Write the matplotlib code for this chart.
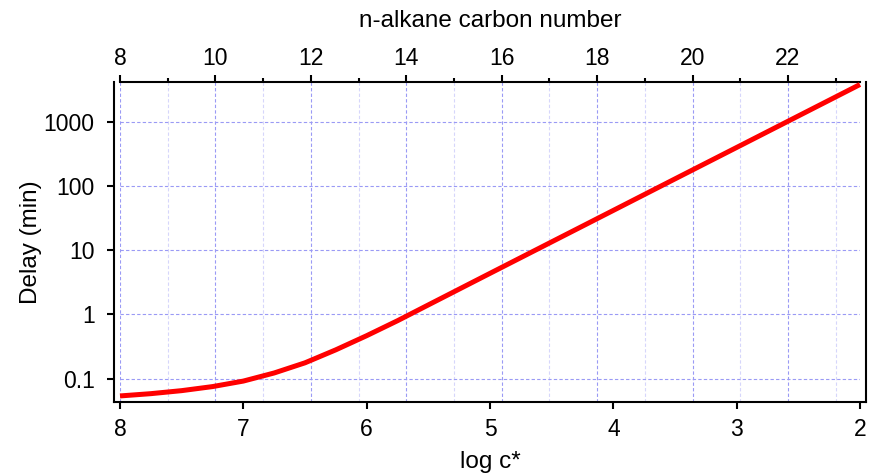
import numpy as np
import matplotlib.pyplot as plt
from matplotlib.ticker import FixedLocator, NullLocator, NullFormatter

# values
log_c = [8.0, 7.75, 7.5, 7.25, 7.0, 6.75, 6.5, 6.25, 6.0, 5.75, 5.5,
         5.0, 4.5, 4.0, 3.5, 3.0, 2.5, 2.0]
delay = [0.054, 0.0586, 0.0653, 0.0755, 0.092, 0.123, 0.177, 0.282, 0.468, 0.80, 1.41,
         4.37, 13.5, 41.7, 129, 398, 1230, 3800]

x_lim = (8, 2)
carbon_lim = (8, 23.51)
y_lim = (0.043, 4200)
y_ticks = [0.1, 1, 10, 100, 1000]
y_labels = ["0.1", "1", "10", "100", "1000"]
x_ticks = [8, 7, 6, 5, 4, 3, 2]
carbon_major = [8, 10, 12, 14, 16, 18, 20, 22]
carbon_minor = [9, 11, 13, 15, 17, 19, 21, 23]

plt.rcParams['font.family'] = ['Liberation Sans', 'DejaVu Sans']
fs = 16.5
fs_label = 17.5
grid_major = "#9a9af5"
grid_minor = "#d6d6fb"

fig = plt.figure(figsize=(8.7, 4.75), dpi=100)
ax = fig.add_axes([120 / 870, 72.7 / 475, 740 / 870, 320.6 / 475])
ax2 = ax.twiny()
ax.set_zorder(2)
ax.patch.set_visible(False)
ax2.set_zorder(1)

# main curve
ax.plot(log_c, delay, color="#ff0000", lw=3.6, solid_capstyle="butt", clip_on=False)

ax.set_yscale("log")
ax.set_xlim(*x_lim)
ax.set_ylim(*y_lim)
ax.yaxis.set_major_locator(FixedLocator(y_ticks))
ax.set_yticklabels(y_labels)
ax.yaxis.set_minor_locator(NullLocator())
ax.yaxis.set_minor_formatter(NullFormatter())
ax.set_xticks(x_ticks)
ax.set_xticklabels([str(v) for v in x_ticks])
ax.grid(axis="y", color=grid_major, ls=(0, (3, 2)), lw=0.8)

ax.tick_params(axis="x", direction="out", length=5, width=1.5, labelsize=fs, pad=6)
ax.tick_params(axis="y", direction="out", length=5, width=1.5, labelsize=fs, pad=9)

ax.spines["left"].set_position(("outward", 4.3))
ax.spines["right"].set_position(("outward", 4.3))
ax.spines["top"].set_visible(False)
for s in ["left", "right", "bottom"]:
    ax.spines[s].set_linewidth(1.5)
ax.spines["bottom"].set_bounds(8.049, 1.951)

ax.set_xlabel("log c*", fontsize=fs_label, labelpad=7.5)
ax.set_ylabel("Delay (min)", fontsize=fs_label, labelpad=1)

# top axis: carbon number
ax2.set_xlim(*carbon_lim)
ax2.xaxis.set_major_locator(FixedLocator(carbon_major))
ax2.xaxis.set_minor_locator(FixedLocator(carbon_minor))
ax2.tick_params(axis="x", which="major", direction="out", length=5, width=1.5,
                labelsize=fs, pad=3.5)
ax2.tick_params(axis="x", which="minor", direction="out", length=2.8, width=1.5)
ax2.grid(which="major", axis="x", color=grid_major, ls=(0, (3, 2)), lw=0.8)
ax2.grid(which="minor", axis="x", color=grid_minor, ls=(0, (3, 2)), lw=0.8)
for s in ["left", "right", "bottom"]:
    ax2.spines[s].set_visible(False)
ax2.spines["top"].set_linewidth(1.5)
ax2.set_xlabel("n-alkane carbon number", fontsize=fs_label, labelpad=14.5)

fig.savefig("out.png", dpi=100)
